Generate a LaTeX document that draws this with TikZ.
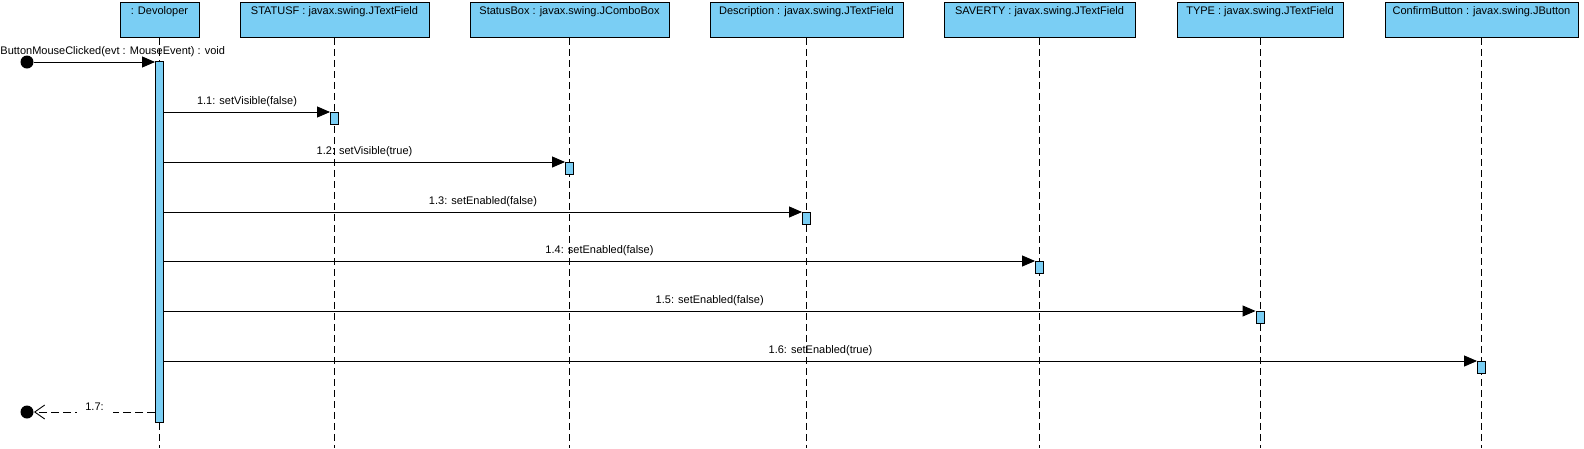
\documentclass[tikz,border=0pt]{standalone}
\usepackage{fontspec}
\setmainfont{Liberation Sans}
\usetikzlibrary{arrows.meta, positioning}
\definecolor{objblue}{HTML}{7ACEF4}

\begin{document}
\begin{tikzpicture}[x=1pt, y=-1pt, line width=0.9pt, font=\fontsize{11}{13}\selectfont]
% Define sequence diagram styles
\tikzstyle{object} = [rectangle, draw=black, fill=objblue, anchor=north, inner sep=2pt, text height=10pt, text depth=21pt]
\tikzstyle{activation} = [rectangle, draw=black, fill=objblue, anchor=north, minimum width=8pt, minimum height=12pt, inner sep=0pt]
\tikzstyle{lifeline} = [draw=black, dash pattern=on 7pt off 4pt]
\tikzstyle{arrow} = [-{Triangle[length=13pt, width=11pt]}, draw=black]
\tikzstyle{reply} = [-{Straight Barb[length=10pt, width=14pt]}, draw=black, dash pattern=on 8pt off 4pt]
\tikzstyle{dot} = [circle, fill=black, minimum size=13pt, inner sep=0pt]
\useasboundingbox (0,0) rectangle (1584,448);
\coordinate (Bottom) at (0,448);
% Define nodes (objects)
\node[object, minimum width=79pt] (Devoloper) at (159.5,2) {: Devoloper};
\node[object, minimum width=189pt] (StatusF) at (334.5,2) {STATUSF : javax.swing.JTextField};
\node[object, minimum width=199pt] (StatusBox) at (569.5,2) {StatusBox : javax.swing.JComboBox};
\node[object, minimum width=193pt] (Description) at (806.5,2) {Description : javax.swing.JTextField};
\node[object, minimum width=191pt] (Saverty) at (1039.5,2) {SAVERTY : javax.swing.JTextField};
\node[object, minimum width=166pt] (Type) at (1260,2) {TYPE : javax.swing.JTextField};
\node[object, minimum width=193pt] (ConfirmButton) at (1481.5,2) {ConfirmButton : javax.swing.JButton};
% Lifelines
\draw[lifeline] (Devoloper.south) -- (Devoloper.south |- Bottom);
\draw[lifeline] (StatusF.south) -- (StatusF.south |- Bottom);
\draw[lifeline] (StatusBox.south) -- (StatusBox.south |- Bottom);
\draw[lifeline] (Description.south) -- (Description.south |- Bottom);
\draw[lifeline] (Saverty.south) -- (Saverty.south |- Bottom);
\draw[lifeline] (Type.south) -- (Type.south |- Bottom);
\draw[lifeline] (ConfirmButton.south) -- (ConfirmButton.south |- Bottom);
% Activation bars
\node[activation, minimum height=361pt] (DevBar) at (Devoloper.south |- 0,61) {};
\node[activation] (ActStatusF) at (StatusF.south |- 0,112) {};
\node[activation] (ActStatusBox) at (StatusBox.south |- 0,162) {};
\node[activation] (ActDescription) at (Description.south |- 0,212) {};
\node[activation] (ActSaverty) at (Saverty.south |- 0,261) {};
\node[activation] (ActType) at (Type.south |- 0,311) {};
\node[activation] (ActConfirmButton) at (ConfirmButton.south |- 0,361) {};
% Start and end points
\node[dot] (Start) at (27,62) {};
\node[dot] (End) at (27,412) {};
% Messages (arrows)
\node[anchor=base west, inner sep=0pt] (FoundLabel) at (0,54) {ButtonMouseClicked(evt : MouseEvent) : void};
\draw[arrow] (Start) -- (Start -| DevBar.west);
\draw[arrow] (DevBar.east |- ActStatusF.north) -- (ActStatusF.north west) node[midway, above=1pt] {1.1: setVisible(false)};
\draw[arrow] (DevBar.east |- ActStatusBox.north) -- (ActStatusBox.north west) node[midway, above=1pt] {1.2: setVisible(true)};
\draw[arrow] (DevBar.east |- ActDescription.north) -- (ActDescription.north west) node[midway, above=1pt] {1.3: setEnabled(false)};
\draw[arrow] (DevBar.east |- ActSaverty.north) -- (ActSaverty.north west) node[midway, above=1pt] {1.4: setEnabled(false)};
\draw[arrow] (DevBar.east |- ActType.north) -- (ActType.north west) node[midway, above=1pt] {1.5: setEnabled(false)};
\draw[arrow] (DevBar.east |- ActConfirmButton.north) -- (ActConfirmButton.north west) node[midway, above=1pt] {1.6: setEnabled(true)};
\draw[reply] (DevBar.west |- End) -- (End) node[midway, fill=white, yshift=5pt, minimum width=36pt, inner sep=2pt] {1.7:};
\end{tikzpicture}
\end{document}
